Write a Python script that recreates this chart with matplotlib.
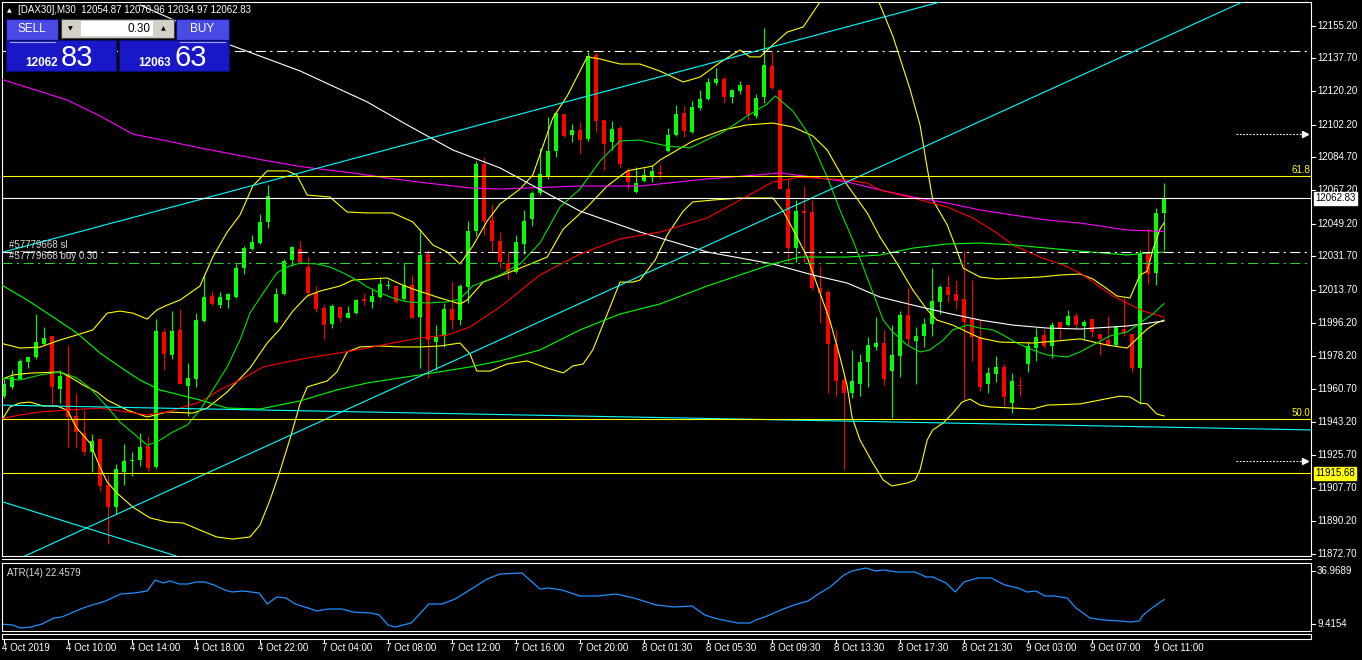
import numpy as np
import matplotlib
matplotlib.use("Agg")
import matplotlib.pyplot as plt
from matplotlib.patches import Rectangle
from matplotlib.transforms import blended_transform_factory as blend

W, H = 1362, 660
plt.rcParams['font.family'] = ['Liberation Sans', 'DejaVu Sans']

# ---- DAX30 M30 candles (bar 0 = 4 Oct 06:00, last bar = 9 Oct 11:30) ----
opens = [11956.8, 11961.6, 11966.4, 11975.0, 11977.8, 11984.9, 11988.9, 11960.6, 11968.7, 11946.3,
         11937.3, 11927.2, 11933.9, 11909.4, 11897.6, 11916.3, 11922.0, 11922.8, 11930.1, 11919.0,
         11991.2, 11979.2, 11992.2, 11962.2, 11966.4, 11997.3, 12010.7, 12005.5, 12008.4, 12010.0,
         12025.6, 12035.7, 12039.0, 12050.1, 11996.9, 12011.7, 12029.8, 12035.7, 12026.0, 12012.2,
         12004.2, 11995.6, 12004.6, 11998.9, 12001.7, 12008.8, 12007.5, 12009.8, 12016.1, 12016.1,
         12008.8, 12016.6, 11999.4, 12032.9, 11985.9, 11989.3, 12003.6, 11997.9, 12015.5, 12045.1,
         12081.0, 12051.2, 12039.8, 12028.1, 12023.3, 12038.4, 12051.8, 12065.7, 12074.4, 12088.1,
         12107.8, 12096.9, 12099.4, 12094.4, 12139.3, 12104.5, 12092.9, 12100.2, 12077.6, 12066.1,
         12071.9, 12074.4, 12076.8, 12088.3, 12096.7, 12108.7, 12098.2, 12111.2, 12116.0, 12124.6,
         12126.9, 12117.0, 12120.2, 12123.5, 12106.8, 12117.0, 12133.6, 12120.8, 12067.6, 12036.5,
         12055.8, 12055.4, 12015.1, 12012.6, 11984.9, 11965.8, 11958.4, 11963.5, 11975.4, 11983.2,
         11985.5, 11970.6, 11978.4, 12000.4, 11986.4, 11989.3, 11995.6, 12007.5, 12015.5, 12011.7,
         12008.8, 11998.3, 11988.7, 11963.5, 11968.9, 11972.5, 11953.4, 11963.0, 11974.4, 11982.6,
         11989.9, 11983.9, 11996.5, 11995.0, 11999.8, 11994.7, 11998.3, 11990.3, 11986.8, 11984.5,
         11993.1, 11990.3, 11972.1, 12033.6, 12022.7, 12054.87]
highs = [11966.4, 11971.2, 11976.9, 11977.8, 12000.8, 11994.1, 11988.9, 11971.2, 11984.3, 11958.7,
         11949.6, 11936.8, 11933.9, 11914.8, 11920.5, 11931.4, 11927.2, 11937.1, 11935.4, 11998.3,
         11993.5, 12002.7, 12003.6, 11974.6, 12001.2, 12022.2, 12013.2, 12012.6, 12012.2, 12027.9,
         12037.1, 12043.2, 12054.3, 12070.0, 12015.1, 12030.4, 12037.5, 12039.9, 12031.4, 12016.1,
         12005.9, 12006.1, 12004.6, 12005.2, 12008.8, 12012.2, 12015.1, 12020.8, 12018.9, 12016.1,
         12027.9, 12021.8, 12046.6, 12035.2, 11995.0, 12006.9, 12018.0, 12017.0, 12050.5, 12083.0,
         12084.9, 12060.0, 12044.7, 12034.6, 12043.4, 12056.6, 12066.7, 12089.6, 12106.3, 12108.4,
         12108.2, 12102.4, 12103.4, 12141.2, 12140.7, 12104.5, 12104.0, 12101.5, 12079.5, 12079.5,
         12079.1, 12080.5, 12081.0, 12100.5, 12112.6, 12112.0, 12114.9, 12120.8, 12127.3, 12132.6,
         12127.9, 12121.2, 12125.4, 12123.5, 12118.7, 12153.7, 12141.2, 12120.8, 12073.4, 12061.9,
         12069.6, 12061.9, 12026.6, 12013.8, 11992.2, 11969.2, 11981.7, 11979.7, 11988.4, 11999.2,
         11992.2, 11995.0, 12002.7, 12015.1, 11994.1, 11998.9, 12025.6, 12016.4, 12021.8, 12018.9,
         12034.6, 12018.9, 11997.9, 11972.5, 11978.4, 11974.0, 11969.2, 11967.0, 11985.9, 11993.5,
         11992.7, 11996.5, 11996.5, 12003.1, 12001.7, 11997.5, 11998.3, 11990.3, 11999.8, 11994.1,
         12009.4, 11990.3, 12035.2, 12047.2, 12057.7, 12070.96]
lows = [11955.9, 11960.6, 11966.0, 11972.1, 11976.9, 11984.5, 11953.0, 11953.4, 11929.5, 11929.1,
        11925.3, 11916.3, 11906.2, 11878.1, 11893.7, 11909.6, 11914.4, 11919.6, 11917.1, 11918.6,
        11971.2, 11976.9, 11963.5, 11946.3, 11961.6, 11996.9, 12005.5, 12004.0, 12004.2, 12009.4,
        12022.2, 12035.2, 12038.6, 12047.2, 11996.0, 12011.3, 12026.6, 12027.5, 12009.8, 12002.1,
        11987.4, 11993.5, 11996.4, 11998.9, 12000.8, 12005.5, 12004.2, 12009.4, 12014.1, 12006.9,
        12008.4, 11998.9, 11972.1, 11966.7, 11971.2, 11983.2, 11993.1, 11995.0, 12006.9, 12042.4,
        12043.2, 12034.2, 12025.6, 12018.9, 12022.7, 12032.9, 12048.2, 12064.8, 12073.4, 12084.9,
        12095.8, 12092.9, 12086.4, 12093.3, 12098.2, 12078.2, 12088.7, 12079.1, 12068.0, 12065.7,
        12071.5, 12071.5, 12073.4, 12087.7, 12096.3, 12095.4, 12097.9, 12110.1, 12115.4, 12123.5,
        12113.9, 12113.9, 12118.9, 12104.9, 12105.9, 12113.9, 12121.2, 12068.0, 12028.5, 12028.9,
        12028.5, 12013.8, 11996.0, 11958.7, 11957.2, 11917.6, 11956.2, 11956.8, 11962.0, 11981.7,
        11963.0, 11945.4, 11967.0, 11984.5, 11963.5, 11983.2, 11989.3, 12000.8, 12007.5, 12003.6,
        11954.9, 11975.9, 11959.7, 11958.7, 11964.5, 11951.5, 11948.2, 11957.2, 11969.8, 11975.9,
        11982.6, 11977.3, 11987.8, 11994.7, 11992.7, 11987.8, 11988.4, 11979.2, 11983.9, 11983.9,
        11989.3, 11969.8, 11953.0, 12017.0, 12016.6, 12034.97]
closes = [11963.5, 11967.3, 11975.9, 11977.8, 11985.9, 11988.2, 11962.0, 11967.9, 11945.7, 11937.7,
          11927.2, 11932.9, 11909.1, 11897.6, 11918.0, 11922.0, 11922.8, 11929.7, 11918.6, 11991.8,
          11979.7, 11991.8, 11963.5, 11966.7, 11997.7, 12010.0, 12006.5, 12009.8, 12011.7, 12025.6,
          12036.5, 12039.4, 12050.1, 12064.1, 12011.7, 12029.3, 12036.9, 12028.5, 12012.2, 12003.6,
          11995.0, 12005.2, 11998.9, 12001.7, 12008.4, 12008.0, 12010.7, 12017.0, 12016.4, 12007.5,
          12016.6, 11998.9, 12032.7, 11986.8, 11988.4, 12003.6, 11997.9, 12016.1, 12045.1, 12081.0,
          12050.5, 12039.9, 12028.5, 12023.3, 12039.4, 12050.5, 12065.7, 12075.9, 12088.1, 12108.4,
          12096.3, 12099.2, 12093.9, 12138.9, 12104.3, 12092.1, 12099.8, 12081.0, 12071.5, 12070.9,
          12075.3, 12077.2, 12076.1, 12096.7, 12107.8, 12099.0, 12111.6, 12116.0, 12125.0, 12126.5,
          12116.8, 12120.8, 12123.5, 12107.2, 12116.6, 12134.2, 12121.6, 12068.0, 12036.5, 12055.8,
          12055.2, 12015.1, 12012.2, 11985.1, 11965.0, 11958.7, 11964.9, 11975.0, 11984.5, 11985.5,
          11966.4, 11978.8, 12000.4, 11987.4, 11989.3, 11995.4, 12007.8, 12015.5, 12011.3, 12007.8,
          11996.9, 11988.4, 11961.6, 11969.2, 11972.5, 11956.4, 11964.9, 11962.2, 11983.6, 11988.4,
          11983.9, 11995.0, 11993.5, 11999.8, 11995.0, 11996.9, 11991.2, 11987.8, 11984.5, 11994.1,
          11990.8, 11972.1, 12033.3, 12022.2, 12055.2, 12062.83]
ask = 12063.63

# ---- indicator lines (bar position, price) ----
ma_magenta_x = [-0.5, 3.6, 7.9, 12, 16.1, 20.4, 24.5, 32.4, 37.4, 43.6, 47.9, 52.9, 58.25, 62, 72,
                79.5, 87.9, 94.1, 97, 101.1, 105.4, 109.5, 113.6, 117.9, 122, 126.1, 130.4, 134.5, 140.4, 145]
ma_magenta = [12126.7, 12121.3, 12115.4, 12106.9, 12097.2, 12093.5, 12089.8, 12083.3, 12079.6, 12076.4,
              12073.7, 12071.0, 12068.4, 12067.8, 12069.4, 12069.4, 12073.2, 12075.3, 12076.4, 12074.2,
              12071.6, 12067.3, 12063.6, 12060.3, 12056.6, 12053.9, 12051.2, 12049.6, 12045.9, 12045.1]

ma_white_x = [17, 20.1, 28.25, 37, 45.4, 50.4, 56.1, 62, 72, 79.5, 87.9, 96.1, 101.1, 105.4, 109.5,
              113.6, 117.9, 122, 126.1, 130.4, 134.5, 140.4, 145]
ma_white = [12166.3, 12160.4, 12144.9, 12131.0, 12114.4, 12102.1, 12088.7, 12079.1, 12056.0, 12044.8,
            12034.1, 12027.7, 12021.8, 12017.5, 12010.0, 12005.7, 12001.4, 11997.7, 11995.0, 11993.4,
            11992.9, 11994.5, 11997.2]

ma_red_x = [-0.5, 2, 4.5, 7.9, 12, 15.4, 17.9, 20.4, 24.5, 27, 29.5, 32.4, 35.4, 38.6, 42, 45.4, 48.6,
            52, 55.4, 58.25, 62, 67, 72, 77, 82, 87.9, 92, 96.1, 99.5, 105.4, 107.9, 109.5, 113.6,
            117.9, 121.1, 124.1, 126.1, 129.5, 132.4, 134.5, 138.6, 142.4, 145]
ma_red = [11944.7, 11946.9, 11948.5, 11949.5, 11950.6, 11948.5, 11946.9, 11948.5, 11953.8, 11960.3,
          11965.6, 11972.6, 11975.3, 11977.9, 11980.1, 11982.7, 11985.4, 11988.1, 11989.7, 11994.0,
          12004.7, 12021.8, 12033.0, 12041.1, 12044.8, 12052.3, 12061.9, 12071.6, 12074.2, 12072.6,
          12071.0, 12067.3, 12063.0, 12058.2, 12052.3, 12044.3, 12037.9, 12031.4, 12027.2, 12022.9,
          12010.6, 12002.5, 11999.3]

ma_lime_x = [-0.5, 2.9, 5.75, 9.1, 12, 14.5, 17, 19.5, 22, 24.5, 27.9, 32, 37, 41.6, 45.4, 49.5, 53.6,
             58.25, 62, 67, 72, 77, 82, 87.9, 96.1, 99.5, 105.4, 109.5, 113.6, 117.9, 122, 126.1, 130.4,
             134.5, 140.4, 142, 145]
ma_lime = [12017.0, 12008.4, 12000.4, 11990.8, 11980.1, 11972.6, 11965.6, 11960.3, 11957.6, 11954.9,
           11950.6, 11950.1, 11954.4, 11960.3, 11964.0, 11966.7, 11969.4, 11972.6, 11975.8, 11981.7,
           11992.4, 12000.9, 12006.3, 12015.9, 12027.7, 12031.4, 12031.4, 12032.5, 12036.2, 12038.4,
           12038.9, 12037.9, 12036.2, 12034.6, 12032.5, 12033.2, 12034.1]

ma_green_x = [-0.5, 2, 4.5, 7, 9.1, 10.75, 12.9, 14.5, 16.1, 17.9, 19.1, 21.1, 22.9, 24.5, 26.1, 27.9,
              29.5, 30.75, 32.4, 34.1, 35.4, 37, 39.1, 40.75, 42.4, 44.1, 45.4, 47, 48.6, 50.4, 52.9,
              55.4, 57, 58.6, 62, 64.5, 67, 69.5, 72, 74.5, 77, 79.5, 82.9, 85.75, 89.9, 92.9, 95.4,
              96.4, 98.6, 100.4, 102.9, 104.5, 106.1, 107.4, 109.1, 109.9, 111.1, 112.9, 114.5, 115.75,
              117.4, 118.6, 120.4, 122, 123.6, 124.9, 126.6, 128.6, 130.4, 132.9, 134.5, 136.1, 138.25,
              140.4, 142, 143.6, 145]
ma_green = [11966.7, 11965.6, 11968.3, 11969.9, 11966.7, 11961.3, 11951.2, 11943.1, 11937.3, 11930.8,
            11932.4, 11937.8, 11941.5, 11949.5, 11960.3, 11972.6, 11987.0, 12001.4, 12012.2, 12022.9,
            12026.1, 12028.2, 12027.7, 12026.1, 12022.9, 12019.1, 12015.4, 12012.2, 12009.5, 12007.4,
            12006.8, 12007.4, 12009.0, 12015.9, 12021.8, 12027.7, 12038.9, 12058.2, 12067.8, 12082.8,
            12093.5, 12094.0, 12090.8, 12089.8, 12098.3, 12106.9, 12113.3, 12117.6, 12109.6, 12098.3,
            12074.2, 12056.6, 12040.5, 12026.1, 12006.8, 11997.7, 11991.3, 11984.3, 11980.6, 11981.7,
            11987.0, 11992.4, 11995.0, 11993.4, 11992.4, 11989.7, 11985.4, 11981.7, 11979.0, 11977.9,
            11980.6, 11984.3, 11989.2, 11991.3, 11996.1, 12000.9, 12006.5]

bb_up_x = [-0.5, 2, 4.5, 7, 9.1, 11.1, 12.9, 14.5, 16.1, 17.9, 19.1, 20.4, 22, 24.5, 26.1, 27.9, 29.5,
           31.1, 32.9, 35.4, 36.6, 37.9, 40.75, 42.9, 45.4, 48.6, 51.1, 52, 53.6, 55.4, 57, 58.6, 60.4,
           62, 64.5, 66.1, 68.6, 70.4, 72, 72.9, 74.5, 77, 79.5, 82, 84.9, 87, 89.5, 92, 93.25, 94.5,
           96.1, 97.9, 99.9, 102, 105.75, 109.25, 111.1, 113.25, 114.5, 115.4, 116.1, 117.9, 119.1,
           119.9, 122, 124.1, 127, 129.5, 132, 134.5, 136.1, 137.4, 139.1, 140.75, 142, 142.9, 143.6,
           144.5, 145]
bb_up = [11985.4, 11982.7, 11983.2, 11987.0, 11989.7, 11992.4, 12001.4, 12002.5, 12001.4, 11998.2,
         12003.1, 12005.7, 12008.4, 12015.9, 12031.4, 12044.8, 12053.9, 12069.4, 12077.5, 12077.5,
         12075.3, 12064.6, 12063.5, 12055.5, 12055.0, 12055.0, 12050.2, 12045.9, 12037.9, 12034.1,
         12027.7, 12037.3, 12050.7, 12059.8, 12067.8, 12075.3, 12105.8, 12117.6, 12130.9, 12138.5,
         12137.4, 12134.7, 12134.7, 12130.9, 12125.1, 12127.7, 12135.5, 12142.2, 12138.5, 12138.5,
         12144.9, 12151.8, 12154.5, 12167.9, 12190.4, 12169.0, 12149.7, 12121.3, 12102.1, 12079.1,
         12061.9, 12048.6, 12035.2, 12025.5, 12020.7, 12019.7, 12020.2, 12020.7, 12021.8, 12022.3,
         12019.7, 12015.9, 12010.6, 12009.5, 12021.8, 12023.9, 12035.2, 12046.4, 12049.6]

bb_mid_x = [-0.5, 1.1, 3.25, 7, 8.25, 9.9, 11.6, 12.9, 15.4, 17.9, 20.4, 23.6, 25.4, 27.9, 30.75, 32.9,
            34.5, 36.1, 37.9, 39.5, 42, 43.6, 47.9, 49.5, 51.1, 54.5, 57, 57.9, 59.9, 63.6, 67.9, 69.9,
            72.9, 75.4, 77.9, 81.1, 82, 86.1, 89.9, 92.9, 96.1, 98.6, 101.1, 102.9, 105.4, 107.9, 109.5,
            111.6, 113.6, 115.4, 116.6, 118.6, 120.4, 122, 124.5, 128.6, 131.6, 134.5, 137.9, 140.4,
            141.6, 142.9, 144.1, 145]
bb_mid = [11965.6, 11968.3, 11969.3, 11969.9, 11967.2, 11962.9, 11959.2, 11954.9, 11949.5, 11945.8,
          11948.5, 11947.9, 11950.6, 11959.2, 11972.0, 11985.4, 11992.9, 12002.5, 12010.6, 12013.2,
          12015.9, 12019.1, 12020.2, 12017.0, 12014.3, 12009.5, 12006.3, 12008.4, 12018.0, 12023.9,
          12031.4, 12046.4, 12058.2, 12069.4, 12077.5, 12080.1, 12083.3, 12093.5, 12099.4, 12102.1,
          12103.1, 12101.0, 12096.2, 12088.7, 12069.9, 12055.0, 12042.1, 12028.2, 12013.8, 12003.1,
          11997.7, 11995.0, 11991.3, 11988.1, 11985.9, 11985.4, 11986.5, 11987.6, 11984.3, 11982.7,
          11987.6, 11992.9, 11996.1, 11997.7]

bb_lo_x = [-0.5, 0.75, 2, 3.25, 4.9, 6.6, 7.9, 9.1, 10.75, 12, 12.9, 14.1, 16.1, 18.25, 20.4, 22.4,
           24.5, 26.6, 28.6, 30.75, 32, 33.25, 34.5, 35.75, 37, 37.9, 40.4, 41.6, 42.9, 44.5, 47, 49.5,
           52, 54.5, 57, 58.25, 59.1, 60.75, 62.9, 65.4, 67.9, 69.9, 71.1, 72.4, 73.6, 75.4, 77, 78.6,
           79.5, 81.4, 82.9, 84.9, 86.1, 88.6, 92, 96.1, 97.4, 98.6, 100.4, 102, 103.25, 104.5, 105.4,
           106, 107, 108.6, 109.9, 111, 112.9, 113.9, 114.5, 115.4, 116.1, 117.4, 118.6, 119.75,
           120.75, 122, 123.25, 126.1, 128.6, 130.4, 134.5, 137, 139.5, 140.75, 142, 142.9, 144.1, 145]
bb_lo = [11942.6, 11951.2, 11953.3, 11953.8, 11951.7, 11951.7, 11949.5, 11939.9, 11931.9, 11919.0,
         11911.0, 11905.2, 11897.6, 11891.8, 11889.6, 11889.1, 11885.3, 11881.6, 11880.5, 11881.6,
         11888.0, 11901.4, 11916.9, 11934.1, 11952.8, 11961.9, 11965.1, 11969.9, 11980.6, 11983.3,
         11983.8, 11983.3, 11983.3, 11983.8, 11985.4, 11979.6, 11970.4, 11970.4, 11974.2, 11975.8,
         11972.0, 11969.4, 11973.1, 11974.2, 11981.7, 12000.9, 12018.0, 12018.0, 12019.1, 12029.8,
         12043.2, 12056.0, 12060.9, 12061.9, 12063.0, 12063.0, 12056.0, 12046.4, 12031.4, 12012.2,
         11997.2, 11977.9, 11962.4, 11945.8, 11933.5, 11921.2, 11912.1, 11908.9, 11910.5, 11912.1,
         11917.5, 11933.5, 11938.9, 11942.6, 11947.9, 11953.8, 11955.4, 11952.2, 11951.2, 11950.6,
         11950.1, 11952.2, 11952.8, 11954.9, 11957.0, 11956.5, 11953.3, 11952.8, 11947.4, 11946.4]

# trend lines (two anchors each: bar, price)
trend_lines = [((-0.5, 12033.6), (116.6, 12167.4)),
               ((2.6, 11871.4), (154.5, 12167.3)),
               ((-0.1, 11900.3), (21.1, 11872.0)),
               ((-0.5, 11952.2), (163.4, 11938.9))]

fib_618, fib_500 = 12074.56, 11944.6
level_line = 11915.68
tp_price, sl_price, buy_price = 12141.4, 12034.2, 12028.1
arrow_levels = [12097.1, 11922.0]

price_ticks = [12155.20, 12137.70, 12120.20, 12102.20, 12084.70, 12067.20, 12049.20, 12031.70,
               12013.70, 11996.20, 11978.20, 11960.70, 11943.20, 11925.70, 11907.70, 11890.20, 11872.70]
time_labels = ['4 Oct 2019', '4 Oct 10:00', '4 Oct 14:00', '4 Oct 18:00', '4 Oct 22:00',
               '7 Oct 04:00', '7 Oct 08:00', '7 Oct 12:00', '7 Oct 16:00', '7 Oct 20:00',
               '8 Oct 01:30', '8 Oct 05:30', '8 Oct 09:30', '8 Oct 13:30', '8 Oct 17:30',
               '8 Oct 21:30', '9 Oct 03:00', '9 Oct 07:00', '9 Oct 11:00']

# ATR(14)
atr_x = [-0.5, 1.1, 2, 3.4, 4.75, 6.25, 7.25, 9, 9.9, 11, 12.4, 14.6, 16.25, 17.9, 18.9, 19.9, 20.75,
         21.9, 23, 24, 25.1, 26.25, 27.6, 28.5, 29.9, 31.9, 32.9, 34.1, 35.25, 36.4, 38, 39.1, 40.5,
         42.25, 43.6, 45.9, 46.9, 48, 48.9, 50.9, 53.1, 54.75, 56.4, 58.6, 60.4, 62, 64.75, 67, 68.1,
         69.75, 72, 74.25, 76.5, 78.75, 81.5, 83.75, 86, 87.6, 88.75, 90.4, 91.75, 93.25, 94, 95.4,
         97.1, 98.75, 100.5, 101.6, 103.25, 105, 106, 107.75, 108.9, 110, 111.6, 113.9, 115.25, 116.1,
         117.75, 118.9, 120, 121.75, 123.4, 125.1, 126.75, 127.9, 129, 130.1, 131.25, 132.9, 134,
         135.75, 137.4, 139.6, 140.75, 141.9, 142.4, 143.5, 145]
atr_v = [11.25, 10.79, 9.42, 9.87, 11.25, 14.01, 14.47, 17.22, 18.6, 19.98, 21.35, 25.03, 25.49, 26.41,
         31.46, 30.08, 31.0, 29.62, 29.62, 30.54, 30.54, 29.16, 26.87, 25.95, 26.41, 25.49, 20.44, 23.65,
         23.19, 20.44, 18.6, 17.22, 18.14, 18.14, 16.76, 16.30, 15.39, 10.79, 9.87, 11.71, 20.44, 20.44,
         22.73, 27.78, 31.92, 34.21, 34.67, 27.32, 27.78, 26.87, 24.11, 24.11, 25.03, 23.19, 19.98,
         19.06, 19.52, 15.39, 14.01, 12.63, 11.71, 11.71, 13.09, 14.93, 17.68, 19.98, 21.81, 24.57,
         28.24, 33.75, 35.59, 36.97, 35.59, 36.05, 35.13, 35.13, 32.84, 32.84, 30.08, 25.95, 30.54,
         32.38, 32.38, 29.16, 27.78, 25.95, 26.41, 24.11, 24.11, 23.19, 18.6, 14.01, 13.09, 12.63,
         12.17, 12.63, 15.39, 18.6, 22.46]
atr_last = 22.4579
atr_max, atr_min = 36.9689, 9.4154

# ---------------------------------------------------------------
fig = plt.figure(figsize=(W / 100, H / 100), dpi=100, facecolor='black')


def box(x0, y0, x1, y1):
    return [x0 / W, 1 - y1 / H, (x1 - x0) / W, (y1 - y0) / H]


ax = fig.add_axes(box(2, 2, 1311, 556))
ax2 = fig.add_axes(box(2, 563, 1311, 631))
for a in (ax, ax2):
    a.set_facecolor('black')
    a.set_xticks([])
    a.set_yticks([])
    for s in a.spines.values():
        s.set_color('white')
        s.set_linewidth(0.8)
ax.set_xlim(-0.25, 163.375)
ax.set_ylim(11871.43, 12167.88)
ax2.set_xlim(-0.25, 163.375)
ax2.set_ylim(8.04, 39.26)

# candles
o, hi, lo, c = map(np.array, (opens, highs, lows, closes))
idx = np.arange(len(o))
col = np.where(c >= o, '#00ff00', '#ff0000')
ax.vlines(idx, lo, hi, colors=col, lw=0.8, zorder=2)
ax.bar(idx, np.maximum(np.abs(c - o), 0.6), bottom=np.minimum(o, c), width=0.62,
       color=col, lw=0, zorder=2)

# indicators
for xs, ys, clr in [(bb_up_x, bb_up, '#ffff00'), (bb_mid_x, bb_mid, '#ffff00'),
                    (bb_lo_x, bb_lo, '#ffff00'), (ma_magenta_x, ma_magenta, '#ff00ff'),
                    (ma_white_x, ma_white, '#ffffff'), (ma_red_x, ma_red, '#ff0000'),
                    (ma_lime_x, ma_lime, '#00ff00'), (ma_green_x, ma_green, '#00e000')]:
    ax.plot(xs, ys, color=clr, lw=0.8, zorder=3)

for p1, p2 in trend_lines:
    ax.axline(p1, p2, color='#00ffff', lw=0.8, zorder=3)

# horizontal objects
ax.axhline(fib_618, color='#ffff00', lw=0.8, zorder=4)
ax.axhline(fib_500, color='#ffff00', lw=0.8, zorder=4)
ax.axhline(level_line, color='#ffff00', lw=0.8, zorder=4)
ax.axhline(closes[-1], color='white', lw=0.8, zorder=4)
ax.axhline(tp_price, color='white', lw=0.8, dashes=(9, 4, 2, 4), zorder=4)
ax.axhline(sl_price, color='white', lw=0.8, dashes=(9, 4, 2, 4), zorder=4)
ax.axhline(buy_price, color='#32cd32', lw=0.8, dashes=(9, 4, 2, 4), zorder=4)
for lvl in arrow_levels:
    ax.plot([154, 162.2], [lvl, lvl], color='white', lw=0.8, dashes=(1.5, 1.5), zorder=4)
    ax.plot([162.6], [lvl], marker='>', color='white', ms=4, zorder=4)

trp = blend(fig.transFigure, ax.transData)
ax.text(9 / W, sl_price + 1.0, '#57779668 sl', transform=trp, color='#d8d8d8', fontsize=7,
        va='bottom', ha='left')
ax.text(9 / W, buy_price + 1.0, '#57779668 buy 0.30', transform=trp, color='#d8d8d8', fontsize=7,
        va='bottom', ha='left')
ax.text(1310 / W, fib_618 + 0.6, '61.8', transform=trp, color='#ffff00', fontsize=7,
        ha='right', va='bottom', clip_on=False)
ax.text(1310 / W, fib_500 + 0.6, '50.0', transform=trp, color='#ffff00', fontsize=7,
        ha='right', va='bottom', clip_on=False)

# right price scale
for v in price_ticks:
    ax.text(1317 / W, v, f'{v:.2f}', transform=trp, color='white', fontsize=7,
            va='center', ha='left', clip_on=False)
    ax.plot([1311 / W, 1315 / W], [v, v], transform=trp, color='white', lw=0.8, clip_on=False)
ax.text(1315 / W, closes[-1], f'{closes[-1]:.2f}', transform=trp, color='black', fontsize=7,
        va='center', ha='left', clip_on=False, zorder=6,
        bbox=dict(boxstyle='square,pad=0.15', fc='white', ec='white'))
ax.text(1315 / W, level_line, f'{level_line:.2f}', transform=trp, color='black', fontsize=7,
        va='center', ha='left', clip_on=False, zorder=6,
        bbox=dict(boxstyle='square,pad=0.15', fc='#ffff00', ec='#ffff00'))

# ATR pane
ax2.plot(atr_x, atr_v, color='#1e90ff', lw=0.9)
ax2.text(7 / W, 0.86, f'ATR(14) {atr_last:.4f}', transform=blend(fig.transFigure, ax2.transAxes),
         color='#d8d8d8', fontsize=7, va='center', ha='left')

# time scale
trt = blend(ax2.transData, fig.transFigure)
for k, lab in enumerate(time_labels):
    b = 8 * k
    ax2.plot([b, b], [1 - 639 / H, 1 - 643 / H], transform=trt, color='white', lw=0.8, clip_on=False)
    ax2.text(b - 0.2, 1 - 648 / H, lab, transform=trt, color='white', fontsize=7,
             va='center', ha='left', clip_on=False)

# overlay in pixel coordinates: frames, ATR scale labels and one-click trading panel
ov = fig.add_axes([0, 0, 1, 1], zorder=10)
ov.set_xlim(0, W)
ov.set_ylim(H, 0)
ov.axis('off')
ov.plot([2, 1311], [559, 559], color='white', lw=0.8)
ov.add_patch(Rectangle((2, 634), 1309, 4.5, fill=False, ec='white', lw=0.8))
for yy, v in [(571, atr_max), (624, atr_min)]:
    ov.text(1317, yy, f'{v:.4f}', fontsize=7, color='white', ha='left', va='center')
    ov.plot([1311, 1315], [yy, yy], color='white', lw=0.8)

ov.text(9.5, 10.5, '\u25b2', fontsize=4.5, color='white', ha='center', va='center',
        family='DejaVu Sans')
ov.text(18, 10, f'[DAX30],M30  {opens[-1]:.2f} {highs[-1]:.2f} {lows[-1]:.2f} {closes[-1]:.2f}',
        fontsize=7, color='white', ha='left', va='center')

btn, pbox, edge = '#4a4ae6', '#1818c8', '#0c0c70'
ov.add_patch(Rectangle((6, 19), 52, 21, fc=btn, ec=edge, lw=0.8))
ov.add_patch(Rectangle((176, 19), 53, 21, fc=btn, ec=edge, lw=0.8))
ov.add_patch(Rectangle((6, 40), 110, 31, fc=pbox, ec=edge, lw=0.8))
ov.add_patch(Rectangle((119, 40), 110, 31, fc=pbox, ec=edge, lw=0.8))
ov.plot([10, 55], [42, 42], color='#a0a0ff', lw=0.8)
ov.plot([180, 225], [42, 42], color='#a0a0ff', lw=0.8)
ov.add_patch(Rectangle((61, 19), 113, 19, fc='#d4d0c8', ec='#404040', lw=0.8))
ov.add_patch(Rectangle((81, 21), 72, 15, fc='white', ec='none'))
ov.text(32, 29.5, 'SELL', fontsize=8.5, color='white', ha='center', va='center')
ov.text(202.5, 29.5, 'BUY', fontsize=8.5, color='white', ha='center', va='center')
ov.text(151, 28.5, '0.30', fontsize=8.5, color='black', ha='right', va='center')
ov.text(70.5, 28.5, '\u25bc', fontsize=4.5, color='black', ha='center', va='center',
        family='DejaVu Sans')
ov.text(163.5, 28.5, '\u25b2', fontsize=4.5, color='black', ha='center', va='center',
        family='DejaVu Sans')
bid_s, ask_s = f'{closes[-1]:.2f}', f'{ask:.2f}'
ov.text(58, 66, bid_s[:5], fontsize=8.5, weight='bold', color='white', ha='right', va='baseline')
ov.text(61, 66, bid_s[-2:], fontsize=21, color='white', ha='left', va='baseline')
ov.text(171, 66, ask_s[:5], fontsize=8.5, weight='bold', color='white', ha='right', va='baseline')
ov.text(174, 66, ask_s[-2:], fontsize=21, color='white', ha='left', va='baseline')

fig.savefig('out.png', dpi=100, facecolor='black')
